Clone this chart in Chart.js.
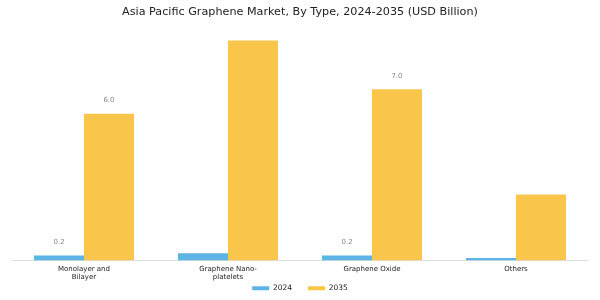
<!DOCTYPE html>
<html>
<head>
<meta charset="utf-8">
<script src="https://cdn.jsdelivr.net/npm/chart.js@4.4.0/dist/chart.umd.min.js"></script>
<style>
  html, body { margin: 0; padding: 0; background: #fff; }
  #wrap { width: 600px; height: 300px; }
</style>
</head>
<body>
<div id="wrap"><canvas id="myBar"></canvas></div>
<script>
var categories = [["Monolayer and", "Bilayer"], ["Graphene Nano-", "platelets"], "Graphene Oxide", "Others"];
var values2024 = [0.2, 0.3, 0.2, 0.1];
var values2035 = [6.0, 9.0, 7.0, 2.7];
// only some bars carry a value label in the original
var shown2024 = ["0.2", null, "0.2", null];
var shown2035 = ["6.0", null, "7.0", null];

var barLabels = {
  id: "barLabels",
  afterDatasetsDraw: function (chart) {
    var ctx = chart.ctx;
    var lists = [shown2024, shown2035];
    ctx.save();
    ctx.font = "7px 'DejaVu Sans'";
    ctx.fillStyle = "#888888";
    ctx.textAlign = "center";
    ctx.textBaseline = "middle";
    chart.data.datasets.forEach(function (ds, i) {
      var meta = chart.getDatasetMeta(i);
      meta.data.forEach(function (bar, j) {
        if (lists[i][j]) ctx.fillText(lists[i][j], bar.x, bar.y - 13.5);
      });
    });
    ctx.restore();
  }
};

var ctxBar = document.getElementById("myBar");
var myBarChart = new Chart(ctxBar, {
  type: "bar",
  data: {
    labels: categories,
    datasets: [
      { label: "2024", data: values2024, backgroundColor: "#5DB3E3" },
      { label: "2035", data: values2035, backgroundColor: "#F9C54B" }
    ]
  },
  options: {
    responsive: true,
    maintainAspectRatio: false,
    animation: false,
    layout: { padding: { left: 12, right: 12, top: 0, bottom: -2 } },
    datasets: { bar: { barPercentage: 1.0, categoryPercentage: 0.694 } },
    plugins: {
      title: {
        display: true,
        text: "Asia Pacific Graphene Market, By Type, 2024-2035 (USD Billion)",
        color: "#222222",
        font: { family: "DejaVu Sans", size: 11.2, weight: "normal" },
        padding: { top: 5, bottom: 0 }
      },
      legend: {
        position: "bottom",
        labels: {
          color: "#222222",
          font: { family: "DejaVu Sans", size: 7.5 },
          boxWidth: 17,
          boxHeight: 4,
          padding: 16
        }
      },
      tooltip: { enabled: false }
    },
    scales: {
      x: {
        grid: { display: false, drawTicks: false },
        border: { color: "#dddddd" },
        ticks: { color: "#222222", font: { family: "DejaVu Sans", size: 7, lineHeight: 1.25 }, padding: 4, maxRotation: 0 },
        afterFit: function (scale) {
          // squeeze the axis box so labels run into the legend gap, without clipping them
          scale.height = 8;
          scale._computeLabelArea = function () {};
        }
      },
      y: {
        display: false,
        min: 0,
        max: 9.9
      }
    }
  },
  plugins: [barLabels]
});
</script>
</body>
</html>
